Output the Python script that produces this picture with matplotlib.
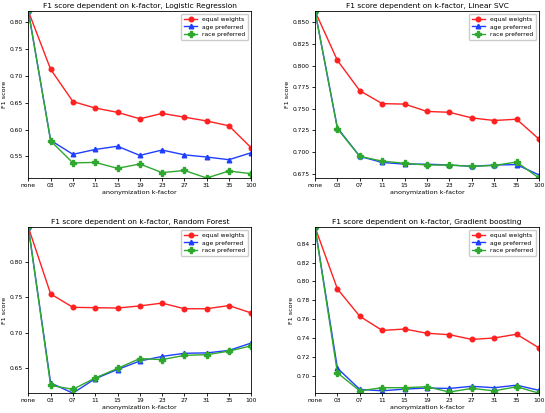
import numpy as np
import matplotlib
matplotlib.use("Agg")
import matplotlib.pyplot as plt

k_labels = ["none", "03", "07", "11", "15", "19", "23", "27", "31", "35", "100"]

# Logistic Regression
lr_equal = [0.820, 0.712, 0.652, 0.640, 0.632, 0.620, 0.630, 0.623, 0.616, 0.607, 0.566]
lr_age = [0.820, 0.580, 0.554, 0.563, 0.569, 0.552, 0.562, 0.553, 0.549, 0.544, 0.557]
lr_race = [0.820, 0.579, 0.538, 0.539, 0.528, 0.536, 0.520, 0.524, 0.510, 0.523, 0.518]

# Linear SVC
svc_equal = [0.863, 0.806, 0.771, 0.756, 0.7555, 0.747, 0.746, 0.7395, 0.7365, 0.738, 0.715]
svc_age = [0.863, 0.728, 0.695, 0.688, 0.686, 0.686, 0.685, 0.6835, 0.685, 0.6855, 0.6735]
svc_race = [0.863, 0.727, 0.695, 0.6895, 0.687, 0.685, 0.685, 0.6835, 0.6845, 0.6885, 0.670]

# Random Forest
rf_equal = [0.8495, 0.755, 0.736, 0.7355, 0.735, 0.738, 0.742, 0.734, 0.734, 0.7385, 0.728]
rf_age = [0.8495, 0.629, 0.6145, 0.635, 0.648, 0.660, 0.6665, 0.671, 0.6715, 0.675, 0.6855]
rf_race = [0.8495, 0.6255, 0.620, 0.636, 0.6495, 0.6635, 0.662, 0.668, 0.669, 0.674, 0.6815]

# Gradient boosting
gb_equal = [0.8575, 0.792, 0.763, 0.748, 0.7495, 0.745, 0.7435, 0.7385, 0.740, 0.744, 0.7295]
gb_age = [0.8575, 0.708, 0.6855, 0.684, 0.6858, 0.687, 0.6865, 0.6888, 0.6873, 0.690, 0.6845]
gb_race = [0.8575, 0.703, 0.684, 0.6873, 0.6873, 0.6883, 0.6827, 0.6866, 0.684, 0.6883, 0.6815]

panels = [
    ("Logistic Regression", lr_equal, lr_age, lr_race),
    ("Linear SVC", svc_equal, svc_age, svc_race),
    ("Random Forest", rf_equal, rf_age, rf_race),
    ("Gradient boosting", gb_equal, gb_age, gb_race),
]

# axes rectangles (left, bottom, width, height) in figure fraction
rects = [
    [0.052, 0.569, 0.409, 0.404],
    [0.578, 0.569, 0.411, 0.404],
    [0.052, 0.048, 0.409, 0.402],
    [0.578, 0.048, 0.411, 0.402],
]

fig = plt.figure(figsize=(5.45, 4.13), dpi=100)
x = np.arange(len(k_labels))

for (name, eq, age, race), r in zip(panels, rects):
    ax = fig.add_axes(r)
    ax.plot(x, eq, color="#ff2020", marker="o", markersize=3.3, linewidth=1, label="equal weights")
    ax.plot(x, age, color="#1f3fff", marker="^", markersize=3.3, linewidth=1, label="age preferred")
    ax.plot(x, race, color="#2fa82f", marker="P", markersize=4, linewidth=1, label="race preferred")
    ax.margins(0)
    ax.set_xticks(x)
    ax.set_xticklabels(k_labels)
    ax.tick_params(labelsize=4.3, length=2.2, pad=1.5, width=0.6)
    for s in ax.spines.values():
        s.set_linewidth(0.6)
    ax.set_title("F1 score dependent on k-factor, " + name, fontsize=5.4, pad=2.5)
    ax.set_xlabel("anonymization k-factor", fontsize=4.6, labelpad=1)
    ax.set_ylabel("F1 score", fontsize=4.6, labelpad=2)
    ax.legend(loc="upper right", fontsize=4.3, handlelength=2.2, borderpad=0.5,
              labelspacing=0.35, framealpha=1)

fig.savefig("out.png", dpi=100)
